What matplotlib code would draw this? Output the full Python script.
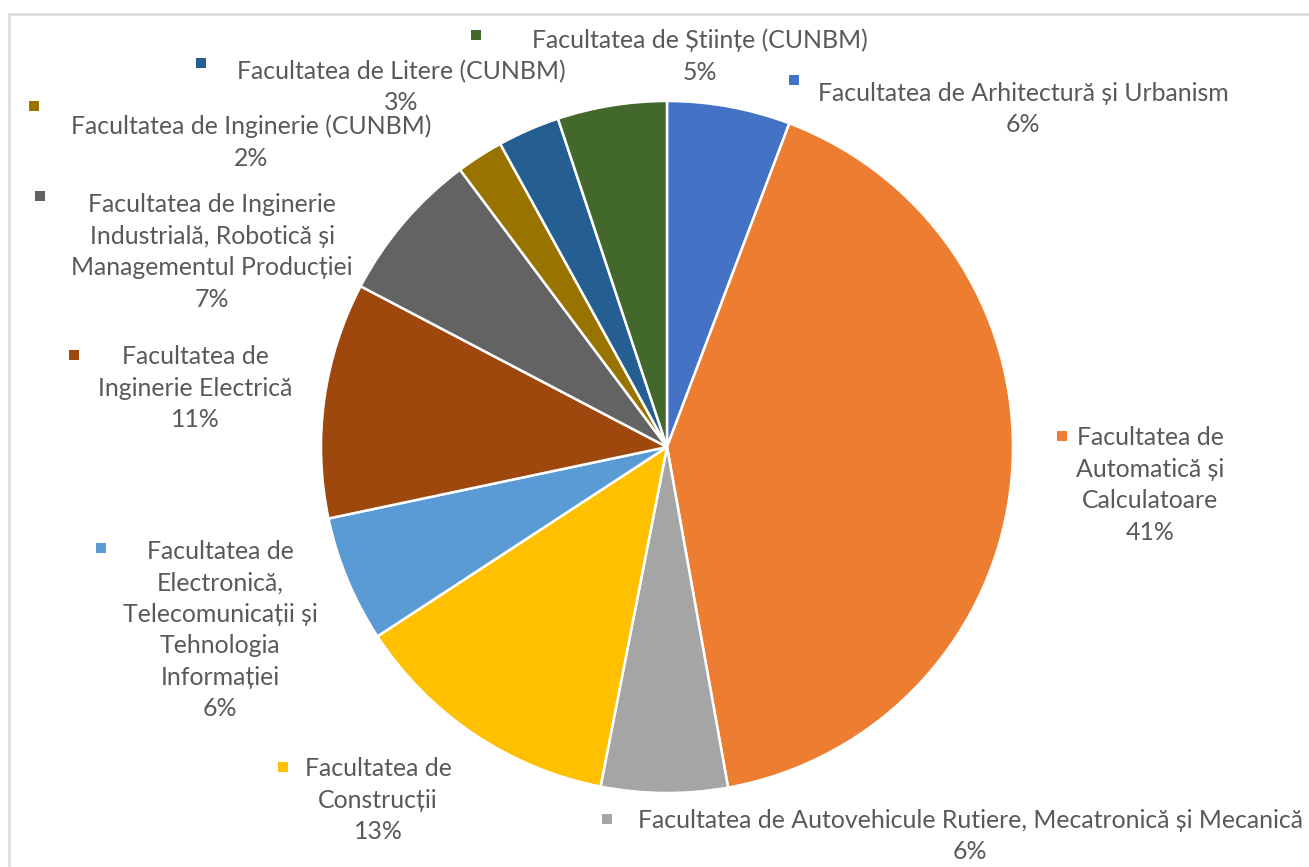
import numpy as np
import matplotlib
matplotlib.use('Agg')
import matplotlib.pyplot as plt
from matplotlib.patches import Rectangle

W, H = 1309, 867

# date
facultati = [
    'Facultatea de Arhitectură și Urbanism',
    'Facultatea de\nAutomatică și\nCalculatoare',
    'Facultatea de Autovehicule Rutiere, Mecatronică și Mecanică',
    'Facultatea de\nConstrucții',
    'Facultatea de\nElectronică,\nTelecomunicații și\nTehnologia\nInformației',
    'Facultatea de\nInginerie Electrică',
    'Facultatea de Inginerie\nIndustrială, Robotică și\nManagementul Producției',
    'Facultatea de Inginerie (CUNBM)',
    'Facultatea de Litere (CUNBM)',
    'Facultatea de Științe (CUNBM)',
]
procente = [5.75, 41.4, 5.9, 12.7, 5.9, 11.0, 7.1, 2.2, 2.9, 5.1]
culori = ['#4472C4', '#ED7D31', '#A5A5A5', '#FFC000', '#5B9BD5',
          '#9E480E', '#636363', '#997300', '#255E91', '#43682B']

# pozitii etichete (pixeli, centru bloc) si pozitii patratele legenda
pos_text = [(1023, 109), (1150, 485), (970, 836), (378, 800), (220, 630),
            (195, 388), (212, 252), (251, 142), (401, 87), (700, 56)]
pos_cheie = [(794, 80), (1062, 436), (607, 819), (283, 767), (101, 548),
             (74, 355), (40, 196), (34, 106), (201, 63), (476, 35)]

fig = plt.figure(figsize=(W / 100, H / 100), dpi=100)
ax = fig.add_axes([0, 0, 1, 1])

def py(y):
    return H - y

# chenar
ax.add_patch(Rectangle((9, -10), W + 20, py(14) + 10, fill=False,
                       edgecolor='#d9d9d9', linewidth=1.8))

ax.pie(procente, colors=culori, startangle=90, counterclock=False,
       center=(667, py(447)), radius=346, frame=True,
       wedgeprops=dict(edgecolor='white', linewidth=1.8))
ax.set_xlim(0, W)
ax.set_ylim(0, H)
ax.set_aspect('auto')
ax.axis('off')

for nume, p, (tx, ty), (kx, ky), c in zip(facultati, procente, pos_text, pos_cheie, culori):
    ax.text(tx, py(ty), f'{nume}\n{round(p)}%', ha='center', va='center',
            fontsize=17.9, family=['Lato', 'DejaVu Sans'], color='#595959',
            linespacing=1.45)
    ax.add_patch(Rectangle((kx - 5, py(ky) - 5), 10, 10, color=c, linewidth=0))

fig.savefig('out.png', dpi=100)
